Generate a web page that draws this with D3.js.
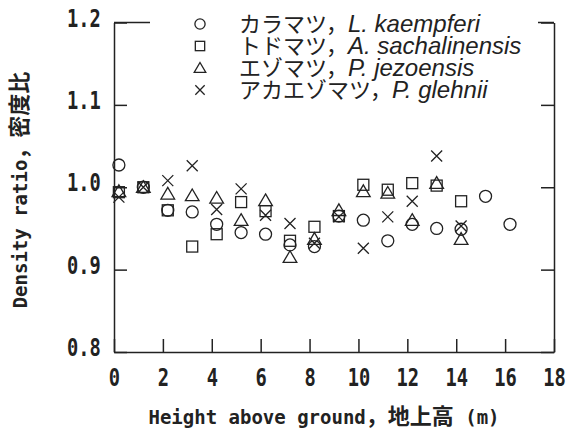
<!DOCTYPE html>
<html>
<head>
<meta charset="utf-8">
<script src="https://cdn.jsdelivr.net/npm/d3@7/dist/d3.min.js"></script>
<style>
  body { margin: 0; background: #fff; }
  .tick text { font-family: 'DejaVu Sans Mono', monospace; font-weight: bold; font-size: 24px; fill: #222; }
  .ttl { font-family: 'DejaVu Sans Mono', monospace; font-weight: bold; fill: #222; }
  .leg { font-family: 'Noto Sans CJK JP', sans-serif; fill: #222; }
</style>
</head>
<body>
<div class="chart"></div>
<script>
// heights above ground (m)
const heights = [0.2, 1.2, 2.2, 3.2, 4.2, 5.2, 6.2, 7.2, 8.2, 9.2, 10.2, 11.2, 12.2, 13.2, 14.2, 15.2, 16.2];

// density ratio per species
const karamatsu = [1.027, 1.0, 0.972, 0.970, 0.955, 0.945, 0.943, 0.930, 0.928, 0.965, 0.960, 0.935, 0.955, 0.950, 0.949, 0.989, 0.955];
const todomatsu = [0.994, 1.0, 0.972, 0.928, 0.943, 0.982, 0.971, 0.935, 0.952, 0.965, 1.003, 0.997, 1.005, 1.002, 0.983];
const ezomatsu = [0.995, 1.0, 0.992, 0.990, 0.987, 0.960, 0.984, 0.915, 0.937, 0.972, 0.995, 0.993, 0.960, 1.005, 0.937];
const akaezomatsu = [0.988, 1.0, 1.008, 1.026, 0.973, 0.998, 0.966, 0.956, 0.932, 0.964, 0.926, 0.964, 0.983, 1.038, 0.953];

const jpNames = ['カラマツ，', 'トドマツ，', 'エゾマツ，', 'アカエゾマツ，'];
const latinNames = ['L. kaempferi', 'A. sachalinensis', 'P. jezoensis', 'P. glehnii'];
const symbols = ['circle', 'square', 'triangle', 'cross'];

const xTicks = [0, 2, 4, 6, 8, 10, 12, 14, 16, 18];
const yTicks = [0.8, 0.9, 1.0, 1.1, 1.2];

const series = [karamatsu, todomatsu, ezomatsu, akaezomatsu];

const svg = d3.select('.chart').append('svg')
  .attr('width', 566)
  .attr('height', 430);

const margin = { top: 22.5, right: 12, bottom: 78, left: 114 };
const width = 566 - margin.left - margin.right;
const height = 430 - margin.top - margin.bottom;

const g = svg.append('g')
  .attr('transform', `translate(${margin.left},${margin.top})`);

const x = d3.scaleLinear().domain([0, 18]).range([0, width]);
const y = d3.scaleLinear().domain([0.8, 1.2]).range([height, 0]);

const ink = '#222';

// draws one marker shape centred on 0,0
function marker(sel, type, s) {
  if (type === 'circle') {
    sel.append('circle').attr('r', 6 * s);
  } else if (type === 'square') {
    sel.append('rect').attr('x', -5.5 * s).attr('y', -5.5 * s)
      .attr('width', 11 * s).attr('height', 11 * s);
  } else if (type === 'triangle') {
    const h = 6.5 * s;
    sel.append('path').attr('d', `M0,${-h}L${h * 1.05},${h * 0.8}L${-h * 1.05},${h * 0.8}Z`);
  } else {
    const a = 5.5 * s;
    sel.append('path').attr('d', `M${-a},${-a}L${a},${a}M${-a},${a}L${a},${-a}`);
  }
  sel.selectAll('*').attr('fill', 'none').attr('stroke', ink).attr('stroke-width', 1.3);
}

// axes with inward ticks
const xAxis = g.append('g')
  .attr('transform', `translate(0,${height})`)
  .call(d3.axisBottom(x).tickValues(xTicks).tickSize(-13).tickSizeOuter(0).tickPadding(17).tickFormat(d3.format('d')));

const yAxis = g.append('g')
  .call(d3.axisLeft(y).tickValues(yTicks).tickSize(-13).tickSizeOuter(0).tickPadding(17).tickFormat(d3.format('.1f')));

g.append('g')
  .attr('transform', `translate(${width},0)`)
  .call(d3.axisRight(y).tickValues(yTicks).tickSize(-13).tickSizeOuter(0).tickFormat(''));

g.selectAll('.domain, .tick line').attr('stroke', ink).attr('stroke-width', 1.5);

// narrow, tall digits
xAxis.selectAll('.tick text').attr('transform', 'scale(0.78,1)');
yAxis.selectAll('.tick text').attr('transform', 'scale(0.78,1)').attr('dy', '0.15em');

// top frame
g.append('line').attr('x1', 0).attr('x2', width).attr('y1', 0).attr('y2', 0)
  .attr('stroke', ink).attr('stroke-width', 1.5);

// points
series.forEach((vals, si) => {
  g.selectAll('.pt' + si)
    .data(vals)
    .enter().append('g')
    .attr('class', 'pt' + si)
    .attr('transform', (d, i) => `translate(${x(heights[i])},${y(d)})`)
    .each(function() { marker(d3.select(this), symbols[si], 1); });
});

// legend box hides the top frame
svg.append('rect').attr('x', 150).attr('y', 0).attr('width', 388).attr('height', 104).attr('fill', '#fff');

const leg = svg.append('g');
symbols.forEach((s, i) => {
  const ly = 24 + i * 22;
  leg.append('g').attr('transform', `translate(200,${ly})`).call(sel => marker(sel, s, 0.85));
  const t = leg.append('text').attr('class', 'leg').attr('x', 239).attr('y', ly + 8).attr('font-size', 22);
  t.append('tspan').text(jpNames[i]);
  t.append('tspan').attr('font-family', 'Liberation Sans, Arial, sans-serif').attr('font-style', 'italic')
    .attr('font-size', 24).text(latinNames[i]);
});

// axis titles
const xt = svg.append('text').attr('class', 'ttl')
  .attr('x', 324).attr('y', 424).attr('text-anchor', 'middle').attr('font-size', 19);
xt.append('tspan').text('Height above ground');
xt.append('tspan').attr('font-family', 'Noto Sans CJK JP').attr('font-size', 22).text('，地上高');
xt.append('tspan').text(' (m)');

const yt = svg.append('text').attr('class', 'ttl')
  .attr('transform', 'translate(27,190) rotate(-90)').attr('text-anchor', 'middle').attr('font-size', 19);
yt.append('tspan').text('Density ratio');
yt.append('tspan').attr('font-family', 'Noto Sans CJK JP').attr('font-size', 22).text('，密度比');
</script>
</body>
</html>
